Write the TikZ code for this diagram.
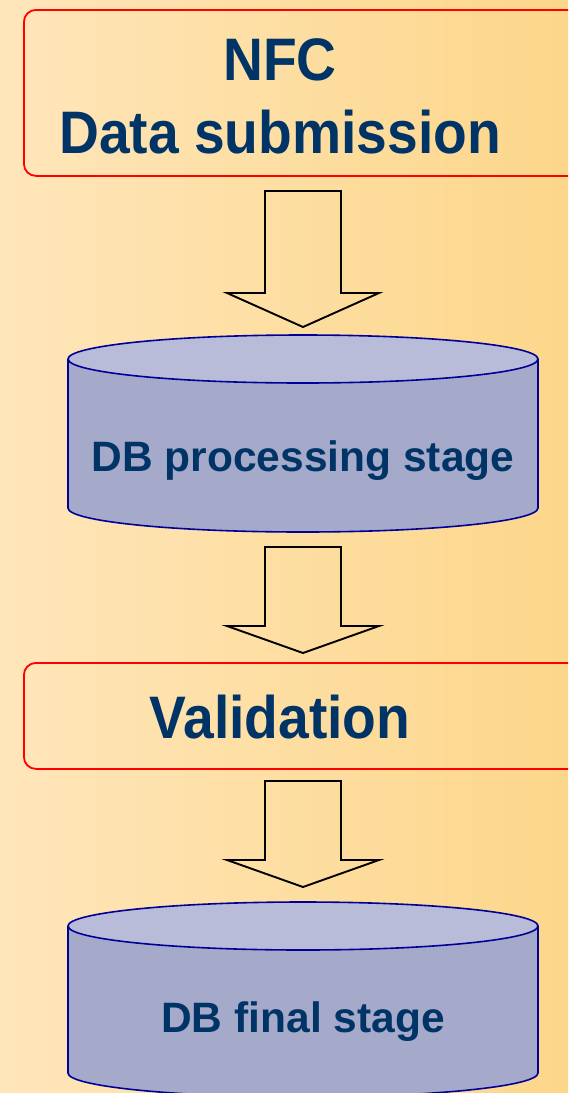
\documentclass[tikz,border=0pt]{standalone}
\usepackage{fontspec}
\setmainfont{Liberation Sans}
\newfontfamily\narrowsans[FakeStretch=0.92]{Liberation Sans}
\definecolor{bgleft}{RGB}{255,230,186}
\definecolor{bgright}{RGB}{252,214,138}
\definecolor{navy}{RGB}{0,51,102}
\definecolor{drumtop}{RGB}{184,188,216}
\definecolor{drumside}{RGB}{166,170,202}
\definecolor{drumline}{RGB}{0,0,153}
\tikzset{
  stagebox/.style={draw=red, line width=1.8pt, rounded corners=12pt},
  bigtext/.style={text=navy, font=\narrowsans\fontsize{60}{73}\selectfont\bfseries, align=center},
  dbtext/.style={text=navy, font=\fontsize{42.5}{50}\selectfont\bfseries},
  flow/.style={draw=black, line width=1.9pt},
}
\newcommand\blockarrow[2]{(-38,0) -- (38,0) -- (38,#1) -- (76,#1) -- (0,#2) -- (-76,#1) -- (-38,#1) -- cycle}
\newcommand\dbdrum[2]{% centres of top and bottom ellipse
  \filldraw[fill=drumside, draw=drumline, line width=1.6pt] (303,#2) ellipse [x radius=235, y radius=24];
  \fill[drumside] (68,#1) rectangle (538,#2);
  \draw[drumline, line width=1.6pt] (68,#1) -- (68,#2) (538,#1) -- (538,#2);
  \filldraw[fill=drumtop, draw=drumline, line width=1.6pt] (303,#1) ellipse [x radius=235, y radius=24];
}
\begin{document}
\begin{tikzpicture}[x=1pt, y=-1pt]
  \clip (0,0) rectangle (568,1093);
  \shade[left color=bgleft, right color=bgright] (0,0) rectangle (568,1093);
  % boxes
  \node[stagebox, minimum width=600pt, minimum height=166pt, anchor=north west] (submitbox) at (23,9) {};
  \node[bigtext, anchor=base] (submit) at (280,153) {NFC\\Data submission};
  \node[stagebox, minimum width=600pt, minimum height=106pt, anchor=north west] (checkbox) at (23,662) {};
  \node[bigtext, anchor=base] (check) at (280,738) {Validation};
  % databases
  \dbdrum{359}{508}
  \node[dbtext, anchor=base] (procdb) at (303,471) {DB processing stage};
  \dbdrum{926}{1073}
  \node[dbtext, anchor=base] (finaldb) at (303,1032) {DB final stage};
  % arrows
  \coordinate (a1) at (303,191);
  \coordinate (a2) at (303,547);
  \coordinate (a3) at (303,781);
  \draw[flow, shift={(a1)}] \blockarrow{102}{136};
  \draw[flow, shift={(a2)}] \blockarrow{79}{106};
  \draw[flow, shift={(a3)}] \blockarrow{79}{106};
\end{tikzpicture}
\end{document}
